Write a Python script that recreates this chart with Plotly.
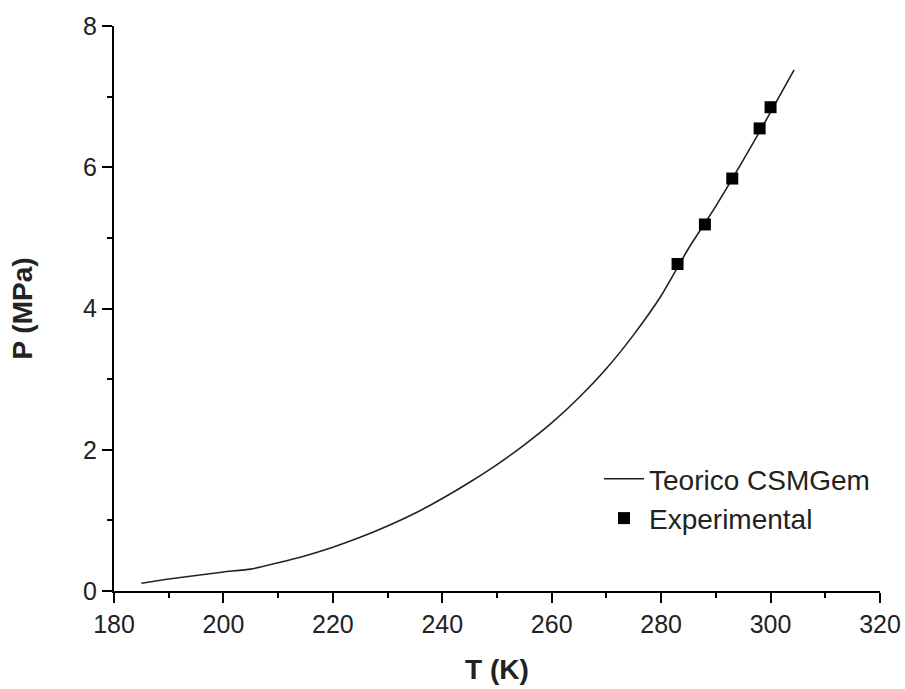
import plotly.graph_objects as go

# Theoretical curve (CSMGem)
T_theo = [185, 190, 195, 200, 205, 210, 215, 220, 225, 230, 235, 240, 245, 250,
          255, 260, 265, 270, 275, 280, 285, 290, 295, 300, 304.3]
P_theo = [0.11, 0.17, 0.22, 0.27, 0.31, 0.40, 0.50, 0.62, 0.76, 0.92, 1.10, 1.31,
          1.54, 1.79, 2.07, 2.38, 2.74, 3.15, 3.63, 4.18, 4.85, 5.45, 6.10, 6.78, 7.38]

# Experimental points
T_exp = [283, 288, 293, 298, 300]
P_exp = [4.63, 5.19, 5.84, 6.55, 6.85]

x_ticks = [180, 200, 220, 240, 260, 280, 300, 320]
y_ticks = [0, 2, 4, 6, 8]

FONT = "Liberation Sans, Arial, sans-serif"

fig = go.Figure()
fig.add_trace(go.Scatter(
    x=T_theo, y=P_theo, mode="lines", name="Teorico CSMGem",
    line=dict(color="#222222", width=1.6, shape="spline", smoothing=0.6),
))
fig.add_trace(go.Scatter(
    x=T_exp, y=P_exp, mode="markers", name="Experimental",
    marker=dict(symbol="square", size=12, color="black"),
))

axis_common = dict(
    showgrid=False, zeroline=False, showline=True, linecolor="black", linewidth=2,
    ticks="outside", ticklen=10, tickwidth=2, tickcolor="black",
    tickfont=dict(family=FONT, size=25, color="#222222"),
    minor=dict(ticks="outside", ticklen=5, tickwidth=2, tickcolor="black"),
    automargin=False,
)

fig.update_xaxes(
    range=[180, 320], tickvals=x_ticks, ticktext=[str(v) for v in x_ticks],
    minor_dtick=10, minor_tick0=180,
    title=dict(text="<b>T (K)</b>", font=dict(family=FONT, size=28, color="#222222"), standoff=22),
    **axis_common,
)
fig.update_yaxes(
    range=[0, 8], tickvals=y_ticks, ticktext=[str(v) for v in y_ticks],
    minor_dtick=1, minor_tick0=0,
    title=dict(text="<b>P (MPa)</b>", font=dict(family=FONT, size=28, color="#222222"), standoff=42),
    **axis_common,
)

fig.update_layout(
    width=905, height=689,
    margin=dict(l=114, r=25, t=26, b=98),
    paper_bgcolor="white", plot_bgcolor="white",
    showlegend=True,
    legend=dict(
        x=(599 - 114) / 766, y=(591 - 454) / 565, xanchor="left", yanchor="top",
        font=dict(family=FONT, size=28, color="#222222"),
        bgcolor="rgba(0,0,0,0)", itemwidth=40, tracegroupgap=0,
    ),
    font=dict(family=FONT),
)

fig.write_html("out.html")
